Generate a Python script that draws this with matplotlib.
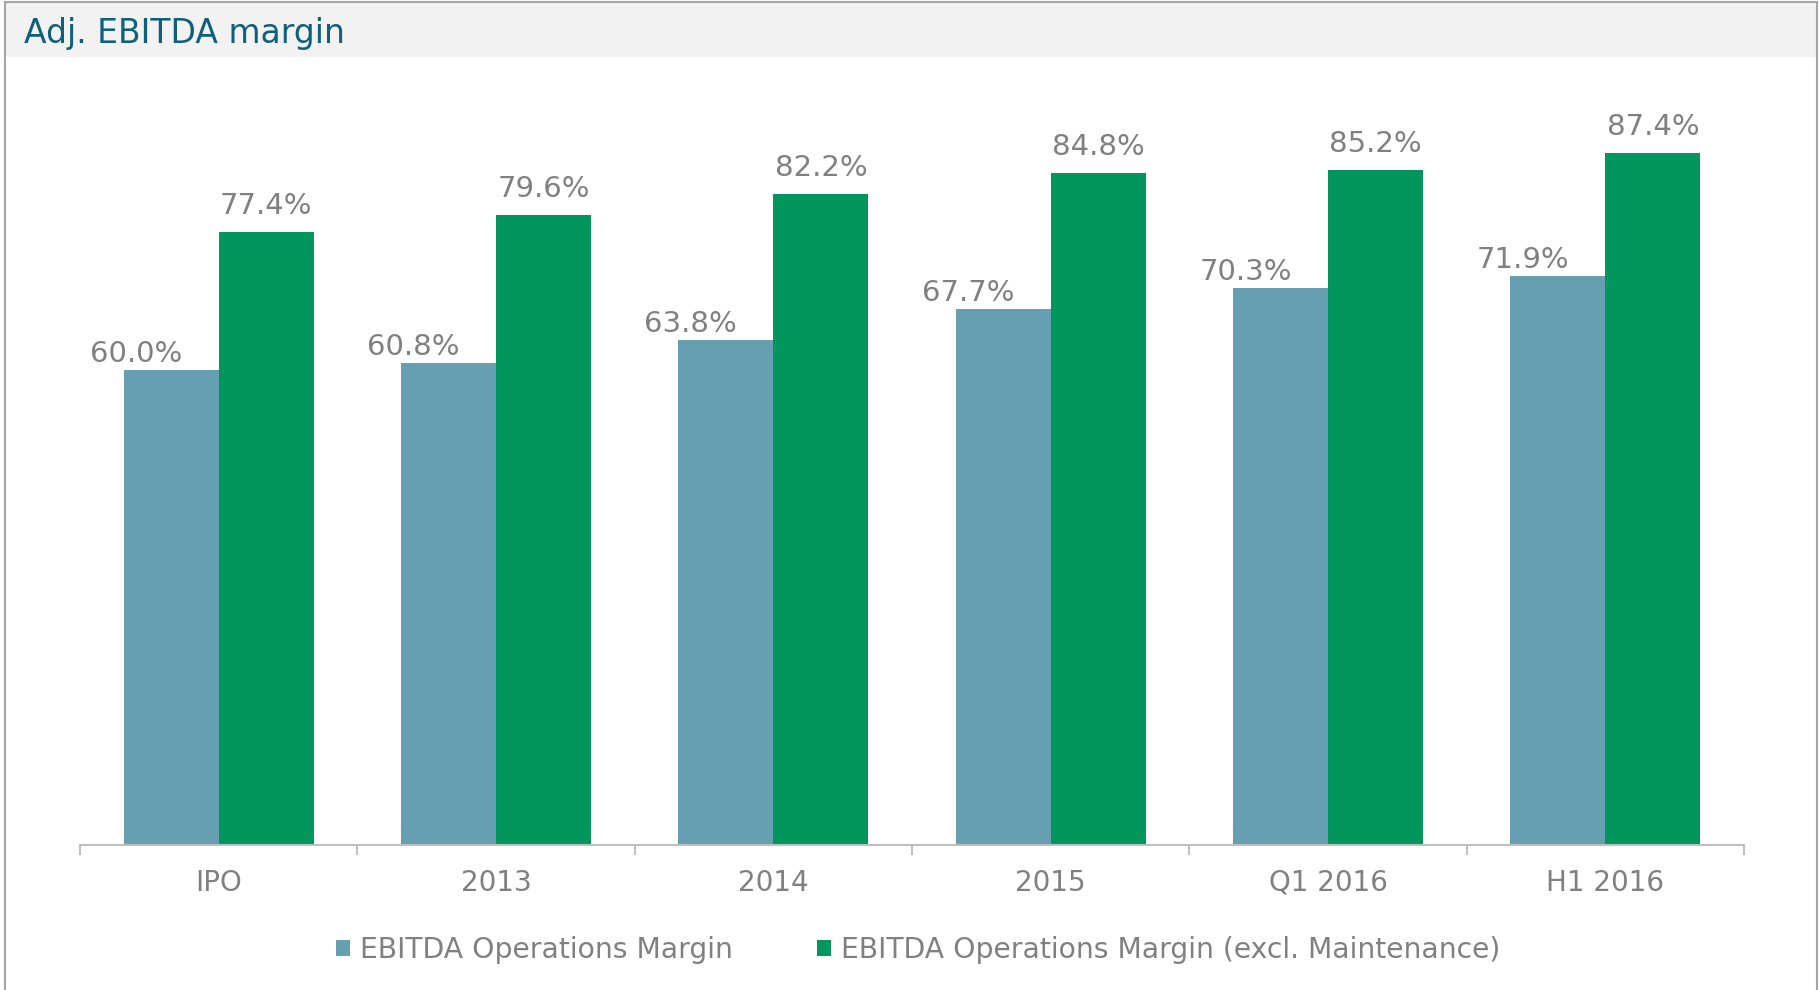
import matplotlib
matplotlib.use("Agg")
import matplotlib.pyplot as plt
from matplotlib.patches import Rectangle, Patch
import numpy as np

categories = ["IPO", "2013", "2014", "2015", "Q1 2016", "H1 2016"]
ops_margin = [60.0, 60.8, 63.8, 67.7, 70.3, 71.9]
ops_margin_excl = [77.4, 79.6, 82.2, 84.8, 85.2, 87.4]
series_names = ["EBITDA Operations Margin", "EBITDA Operations Margin (excl. Maintenance)"]
title = "Adj. EBITDA margin"

W, H = 1819, 990
fig = plt.figure(figsize=(W / 100, H / 100), dpi=100)
fig.patch.set_facecolor("white")

BLUE = "#669FB2"
GREEN = "#00965E"
GRAY = "#808080"
AXIS = "#BFBFBF"

# frame and title band
fig.add_artist(Rectangle((5 / W, 1 - 57 / H), (1817 - 5) / W, 55 / H, transform=fig.transFigure,
                         facecolor="#F2F2F2", edgecolor="none", zorder=0))
fig.add_artist(Rectangle((5 / W, -0.01), (1817 - 5) / W, 1.01 - 2 / H, transform=fig.transFigure,
                         facecolor="none", edgecolor="#A6A6A6", linewidth=1.5, zorder=1))
fig.text(24 / W, 1 - 33 / H, title, fontsize=23.8, color="#0F6079", va="center", ha="left")

ax_left, ax_right = 80 / W, 1744 / W
ax_bottom, ax_top = (H - 845) / H, (H - 80) / H
ax = fig.add_axes([ax_left, ax_bottom, ax_right - ax_left, ax_top - ax_bottom])
ax.set_facecolor("none")

x = np.arange(len(categories))
bw = 0.343
ax.bar(x - bw / 2, ops_margin, width=bw, color=BLUE, label=series_names[0])
ax.bar(x + bw / 2, ops_margin_excl, width=bw, color=GREEN, label=series_names[1])

for xi, v in zip(x, ops_margin):
    ax.annotate(f"{v:.1f}%", (xi - bw / 2, v), xytext=(-35, 2), textcoords="offset pixels",
                ha="center", va="bottom", fontsize=21, color=GRAY)
for xi, v in zip(x, ops_margin_excl):
    ax.annotate(f"{v:.1f}%", (xi + bw / 2, v), xytext=(0, 12), textcoords="offset pixels",
                ha="center", va="bottom", fontsize=21, color=GRAY)

ax.set_xlim(-0.5, len(categories) - 0.5)
ax.set_ylim(0, (845 - 80) / 7.92)
for s in ["top", "right", "left"]:
    ax.spines[s].set_visible(False)
ax.spines["bottom"].set_color(AXIS)
ax.spines["bottom"].set_linewidth(1.5)
ax.set_yticks([])
ax.set_xticks(np.arange(len(categories) + 1) - 0.5)
ax.set_xticklabels([])
ax.tick_params(axis="x", which="major", length=7, width=1.5, color=AXIS, direction="out")
ax.set_xticks(x, minor=True)
ax.set_xticklabels(categories, minor=True)
ax.tick_params(axis="x", which="minor", length=0, pad=17, labelsize=20, labelcolor=GRAY)

handles = [Patch(facecolor=BLUE, edgecolor="none"), Patch(facecolor=GREEN, edgecolor="none")]
fig.legend(handles, series_names, loc="center", bbox_to_anchor=(0.5 * (336 + 1500) / W, 1 - 950 / H),
           ncol=2, frameon=False, fontsize=20.3, labelcolor=GRAY, handlelength=0.5, handleheight=0.5,
           handletextpad=0.35, columnspacing=3.0)

fig.savefig("out.png", dpi=100, facecolor="white")
